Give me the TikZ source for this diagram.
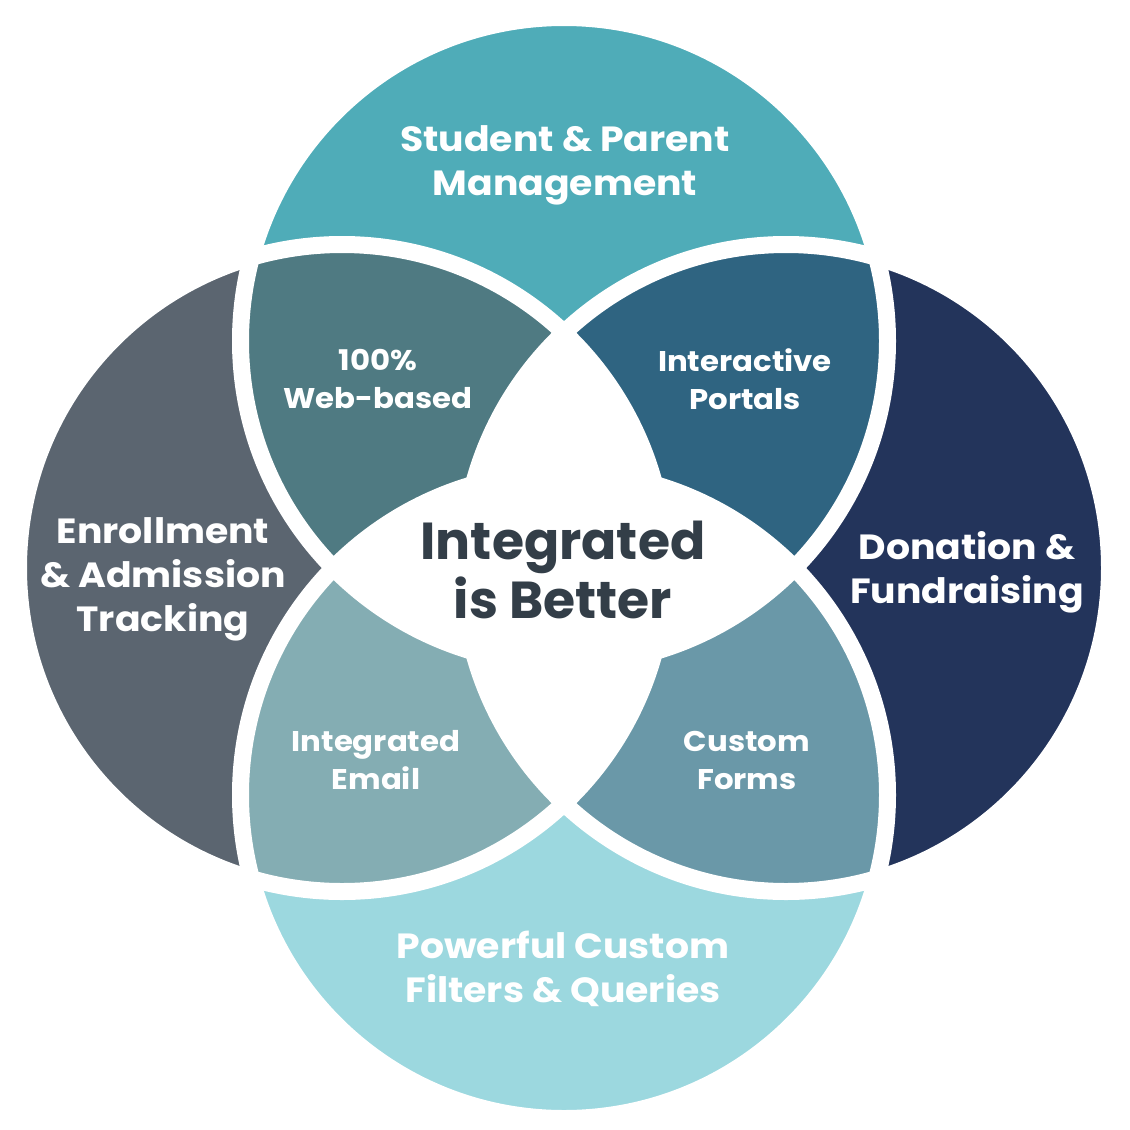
\documentclass[tikz,border=0pt]{standalone}
\usepackage{fontspec}
\setmainfont{Poppins}
\newfontfamily\labelfont{Poppins}[FakeStretch=1.08]
\definecolor{cTop}{HTML}{4FACB8}
\definecolor{cLeft}{HTML}{5B6570}
\definecolor{cRight}{HTML}{23345B}
\definecolor{cBottom}{HTML}{9CD8DF}
\definecolor{cWeb}{HTML}{4F7A82}
\definecolor{cPort}{HTML}{2F6481}
\definecolor{cMail}{HTML}{84ADB3}
\definecolor{cForm}{HTML}{6A98A8}
\definecolor{cText}{HTML}{333E48}
\tikzset{
  biglabel/.style={text=white, align=center, font=\labelfont\fontsize{35}{44}\selectfont\bfseries},
  smalllabel/.style={text=white, align=center, font=\labelfont\fontsize{28.5}{38}\selectfont\bfseries},
  centerlabel/.style={text=cText, align=center, font=\fontsize{52}{59}\selectfont\bfseries},
  gapring/.style={draw=white, line width=17pt}
}
\def\CT{(564,341) circle[radius=316pt]}
\def\CL{(342,568) circle[radius=316pt]}
\def\CR{(786,568) circle[radius=316pt]}
\def\CB{(564,795) circle[radius=316pt]}
\begin{document}
\begin{tikzpicture}[x=1pt,y=-1pt]
\useasboundingbox (0,0) rectangle (1130,1130);
\fill[white] (0,0) rectangle (1130,1130);
% single-circle regions
\fill[cTop] \CT;
\fill[cBottom] \CB;
\fill[cLeft] \CL;
\fill[cRight] \CR;
% lenses
\begin{scope}
  \clip \CT;
  \fill[cWeb] \CL;
  \fill[cPort] \CR;
\end{scope}
\begin{scope}
  \clip \CB;
  \fill[cMail] \CL;
  \fill[cForm] \CR;
\end{scope}
% centre (three or more circles)
\begin{scope}
  \clip \CL;
  \fill[white] \CR;
\end{scope}
\begin{scope}
  \clip \CT;
  \fill[white] \CB;
\end{scope}
% white gaps outside each circle (reaching 1pt inside to hide seams)
\draw[gapring] (564,341) circle[radius=323.5pt];
\draw[gapring] (342,568) circle[radius=323.5pt];
\draw[gapring] (786,568) circle[radius=323.5pt];
\draw[gapring] (564,795) circle[radius=323.5pt];
% labels
\node[biglabel] (top) at (565,165) {Student \& Parent\\Management};
\node[biglabel] (left) at (163,579) {Enrollment\\\& Admission\\Tracking};
\node[biglabel] (right) at (967,572) {Donation \&\\Fundraising};
\node[biglabel] (bottom) at (563,969) {Powerful Custom\\Filters \& Queries};
\node[smalllabel] (web) at (378,379) {100\%\\Web-based};
\node[smalllabel] (portals) at (745,379) {Interactive\\Portals};
\node[smalllabel] (email) at (376,760) {Integrated\\Email};
\node[smalllabel] (forms) at (747,760) {Custom\\Forms};
\node[centerlabel] (centre) at (563,570) {Integrated\\is Better};
\end{tikzpicture}
\end{document}
